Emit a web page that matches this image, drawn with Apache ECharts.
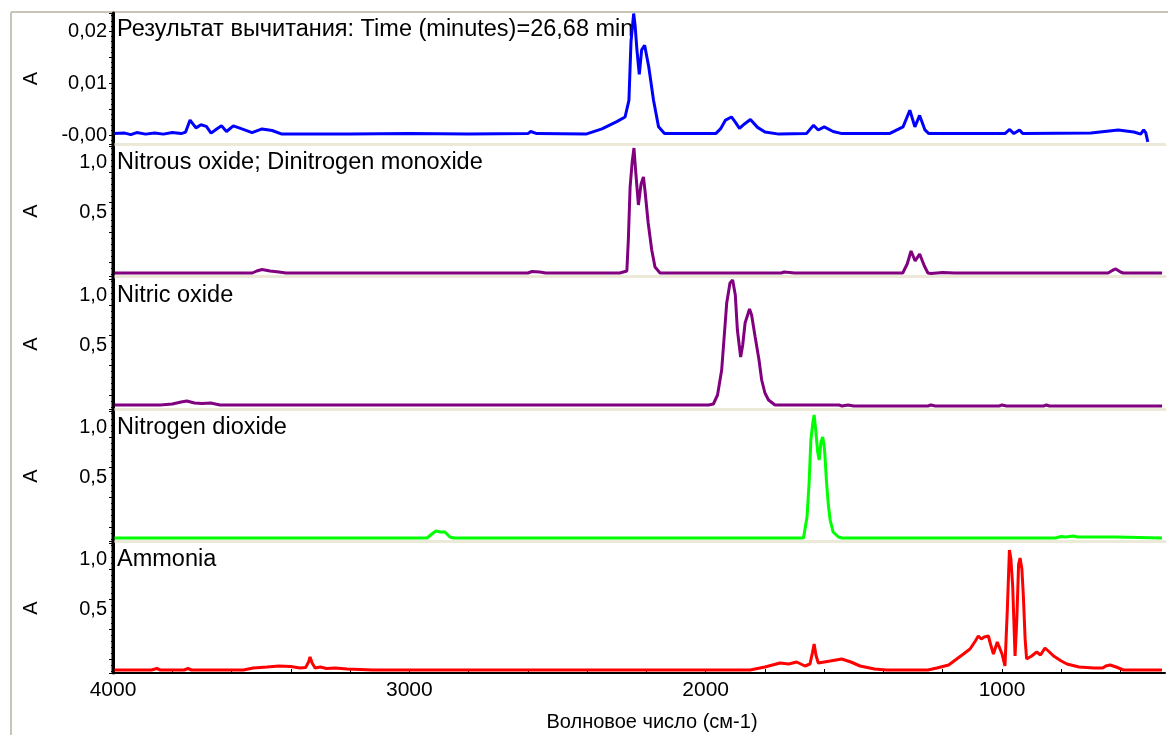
<!DOCTYPE html>
<html>
<head>
<meta charset="utf-8">
<title>Spectra</title>
<script src="https://cdn.jsdelivr.net/npm/echarts@6/dist/echarts.min.js"></script>
<style>
  html, body { margin: 0; padding: 0; background: #fff; }
  #main { width: 1168px; height: 735px; }
</style>
</head>
<body>
<div id="main"></div>
<script>
// panel titles
var titles = [
  'Результат вычитания: Time (minutes)=26,68 min',
  'Nitrous oxide; Dinitrogen monoxide',
  'Nitric oxide',
  'Nitrogen dioxide',
  'Ammonia'
];
var colors = ['#0000ff', '#800080', '#800080', '#00ff00', '#ff0000'];

// x axis: wavenumber, cm-1
var xTickLabels = [4000, 3000, 2000, 1000];
var xMinorTicks = [4000, 3800, 3600, 3400, 3200, 3000, 2800, 2600, 2400, 2200, 2000,
  1800, 1600, 1400, 1200, 1000, 800, 600];

// y tick labels per panel
var yTicksTop = [-0.0001, 0.01, 0.02];
var yTicks = [0.5, 1.0];

// [wavenumber, absorbance]
var subtraction = [
  [4000, 0.0003], [3960, 0.0004], [3940, 0.0001], [3920, 0.0005], [3890, 0.0002], [3860, 0.0004],
  [3830, 0.0002], [3800, 0.0005], [3770, 0.0003], [3755, 0.0006], [3740, 0.0029], [3720, 0.0014],
  [3703, 0.0020], [3685, 0.0017], [3669, 0.0004], [3650, 0.0012], [3634, 0.0018], [3617, 0.0007],
  [3594, 0.0018], [3565, 0.0012], [3531, 0.0005], [3497, 0.0012], [3463, 0.0009], [3430, 0.0002],
  [3200, 0.0002], [3000, 0.0003], [2800, 0.0002], [2600, 0.0003], [2590, 0.0007], [2570, 0.0003],
  [2404, 0.0002], [2350, 0.0012], [2300, 0.0026], [2272, 0.0035], [2259, 0.0067], [2252, 0.018],
  [2243, 0.0234], [2238, 0.021], [2232, 0.0164], [2224, 0.0117], [2216, 0.0164], [2206, 0.0173],
  [2192, 0.0131], [2176, 0.0067], [2159, 0.0016], [2139, 0.0003], [1966, 0.0003], [1950, 0.0012],
  [1933, 0.0029], [1913, 0.0035], [1900, 0.0025], [1886, 0.0013], [1868, 0.0022], [1849, 0.0030],
  [1825, 0.0015], [1800, 0.0006], [1753, 0.0002], [1660, 0.0003], [1636, 0.0019], [1620, 0.0010],
  [1600, 0.0016], [1570, 0.0007], [1540, 0.0003], [1380, 0.0003], [1334, 0.0016], [1311, 0.0048],
  [1294, 0.0016], [1278, 0.0038], [1260, 0.0010], [1247, 0.0003], [990, 0.0003], [974, 0.0011],
  [960, 0.0003], [941, 0.0010], [930, 0.0003], [700, 0.0004], [608, 0.0010], [555, 0.0006],
  [532, 0.0002], [522, 0.0010], [515, 0.0005], [508, -0.0013]
];
var nitrousOxide = [
  [4000, -0.11], [3530, -0.11], [3515, -0.09], [3497, -0.075], [3470, -0.09], [3440, -0.10],
  [3416, -0.11], [2600, -0.11], [2586, -0.095], [2560, -0.10], [2540, -0.11], [2290, -0.11],
  [2266, -0.09], [2261, 0.22], [2255, 0.75], [2248, 1.0], [2242, 1.14], [2236, 0.9], [2227, 0.57],
  [2218, 0.78], [2210, 0.85], [2205, 0.72], [2194, 0.39], [2182, 0.12], [2171, -0.05], [2154, -0.11],
  [1745, -0.11], [1735, -0.10], [1700, -0.11], [1335, -0.11], [1320, -0.02], [1307, 0.11],
  [1293, 0.01], [1278, 0.08], [1262, -0.04], [1250, -0.11], [1240, -0.115], [1200, -0.105],
  [1160, -0.11], [642, -0.11], [625, -0.08], [616, -0.07], [600, -0.10], [591, -0.11], [460, -0.11]
];
var nitricOxide = [
  [4000, -0.10], [3841, -0.10], [3800, -0.09], [3770, -0.07], [3751, -0.06], [3725, -0.08],
  [3700, -0.085], [3670, -0.08], [3639, -0.10], [1990, -0.10], [1974, -0.09], [1960, 0.0],
  [1946, 0.25], [1929, 0.92], [1918, 1.12], [1909, 1.15], [1900, 1.0], [1893, 0.65], [1882, 0.38],
  [1875, 0.5], [1867, 0.72], [1852, 0.86], [1845, 0.80], [1833, 0.58], [1820, 0.35], [1811, 0.15],
  [1800, 0.02], [1788, -0.05], [1766, -0.10], [1550, -0.10], [1540, -0.11], [1520, -0.10],
  [1500, -0.11], [1250, -0.11], [1240, -0.10], [1225, -0.11], [1010, -0.11], [1000, -0.10],
  [985, -0.11], [860, -0.11], [850, -0.10], [840, -0.11], [460, -0.11]
];
var nitrogenDioxide = [
  [4000, -0.11], [2940, -0.11], [2924, -0.07], [2910, -0.04], [2895, -0.05], [2880, -0.05],
  [2863, -0.10], [2850, -0.11], [1670, -0.11], [1665, -0.10], [1658, 0.1], [1651, 0.44],
  [1645, 0.87], [1638, 1.05], [1634, 1.12], [1628, 0.95], [1622, 0.75], [1617, 0.67], [1611, 0.85],
  [1605, 0.90], [1599, 0.78], [1592, 0.44], [1586, 0.22], [1580, 0.07], [1570, -0.05], [1552, -0.10],
  [1540, -0.11], [820, -0.11], [814, -0.09], [800, -0.095], [785, -0.10], [760, -0.09], [745, -0.10],
  [630, -0.10], [625, -0.09], [615, -0.10], [460, -0.11]
];
var ammonia = [
  [4000, -0.11], [3870, -0.11], [3852, -0.095], [3840, -0.11], [3760, -0.11], [3747, -0.095],
  [3735, -0.11], [3560, -0.11], [3527, -0.09], [3480, -0.08], [3440, -0.07], [3400, -0.075],
  [3369, -0.09], [3350, -0.085], [3340, -0.03], [3335, 0.02], [3328, -0.04], [3318, -0.09],
  [3300, -0.08], [3280, -0.095], [3250, -0.09], [3210, -0.10], [3122, -0.11], [1850, -0.11],
  [1800, -0.08], [1749, -0.04], [1720, -0.05], [1693, -0.03], [1665, -0.07], [1648, -0.05],
  [1640, 0.06], [1634, 0.15], [1628, 0.04], [1620, -0.04], [1614, -0.05], [1580, -0.02],
  [1541, 0.0], [1510, -0.03], [1479, -0.07], [1430, -0.10], [1389, -0.11], [1250, -0.11],
  [1220, -0.09], [1180, -0.06], [1153, 0.0], [1130, 0.05], [1108, 0.10], [1090, 0.18], [1080, 0.23],
  [1070, 0.20], [1060, 0.22], [1046, 0.23], [1038, 0.14], [1029, 0.05], [1016, 0.17], [1000, 0.05],
  [990, -0.07], [982, 0.5], [975, 1.09], [970, 1.0], [964, 0.73], [958, 0.2], [956, 0.03], [950, 0.4],
  [944, 0.95], [939, 1.01], [933, 0.9], [928, 0.63], [922, 0.2], [917, 0.0], [900, 0.03], [883, 0.07],
  [870, 0.04], [855, 0.11], [840, 0.07], [826, 0.03], [800, -0.02], [781, -0.05], [740, -0.08],
  [691, -0.09], [660, -0.09], [650, -0.07], [635, -0.06], [615, -0.08], [590, -0.11], [460, -0.11]
];
var spectra = [subtraction, nitrousOxide, nitricOxide, nitrogenDioxide, ammonia];

var font = 'Liberation Sans, Arial, sans-serif';
var panelTops = [13, 146, 279, 411, 543];
var panelHeight = [131, 130, 130, 130, 130];

var myChart = echarts.init(document.getElementById('main'), null, { renderer: 'canvas' });

function fmt(dec) {
  return function (v) {
    return v.toFixed(dec).replace('.', ',');
  };
}

var grids = [], xAxes = [], yAxes = [], series = [], titleList = [];
for (var i = 0; i < 5; i++) {
  var last = i === 4;
  grids.push({ left: 113, right: 3, top: panelTops[i], height: panelHeight[i] });
  xAxes.push({
    type: 'value', gridIndex: i, inverse: true, min: 450, max: 4000,
    name: last ? 'Волновое число (см-1)' : '',
    nameLocation: 'middle', nameGap: 39,
    nameTextStyle: { fontFamily: font, fontSize: 20, color: '#000', padding: [0, 0, 0, 26] },
    axisLine: { show: true, onZero: false, lineStyle: { color: last ? '#000' : '#ece9d8', width: last ? 2 : 3 } },
    axisTick: { show: last, inside: true, length: 4, customValues: xMinorTicks, lineStyle: { color: '#000' } },
    axisLabel: {
      show: last, customValues: xTickLabels, fontFamily: font, fontSize: 21, color: '#000', margin: 7,
      formatter: function (v) { return String(v); }
    },
    splitLine: { show: false }
  });
  yAxes.push({
    type: 'value', gridIndex: i,
    min: i === 0 ? -0.0017 : -0.14,
    max: i === 0 ? 0.0235 : 1.16,
    name: 'A', nameLocation: 'middle', nameGap: 72, nameRotate: 90,
    nameTextStyle: { fontFamily: font, fontSize: 20, color: '#000' },
    axisLine: { show: true, onZero: false, lineStyle: { color: '#000', width: 3 } },
    axisTick: { show: true, length: 4, lineStyle: { color: '#000' } },
    minorTick: { show: true, splitNumber: 5, length: 2, lineStyle: { color: '#000' } },
    axisLabel: {
      customValues: i === 0 ? yTicksTop : yTicks,
      formatter: fmt(i === 0 ? 2 : 1),
      fontFamily: font, fontSize: 20, color: '#000', margin: 6
    },
    splitLine: { show: false }
  });
  series.push({
    type: 'line', xAxisIndex: i, yAxisIndex: i, data: spectra[i],
    showSymbol: false, clip: true, z: 10,
    lineStyle: { color: colors[i], width: 3 }
  });
  titleList.push({
    text: titles[i], left: 117, top: panelTops[i] + 5, padding: 0,
    textStyle: { fontFamily: font, fontSize: 23.5, fontWeight: 'normal', color: '#000' }
  });
}

var option = {
  backgroundColor: '#fff',
  animation: false,
  title: titleList,
  grid: grids,
  xAxis: xAxes,
  yAxis: yAxes,
  series: series,
  graphic: [
    { type: 'line', shape: { x1: 11, y1: 12, x2: 1168, y2: 12 }, style: { stroke: '#c8c4b8', lineWidth: 2 } },
    { type: 'line', shape: { x1: 11, y1: 12, x2: 11, y2: 735 }, style: { stroke: '#c8c4b8', lineWidth: 2 } },
    { type: 'line', shape: { x1: 113, y1: 13, x2: 113, y2: 674 }, style: { stroke: '#000', lineWidth: 3 }, z: 20 }
  ]
};
myChart.setOption(option);
</script>
</body>
</html>
